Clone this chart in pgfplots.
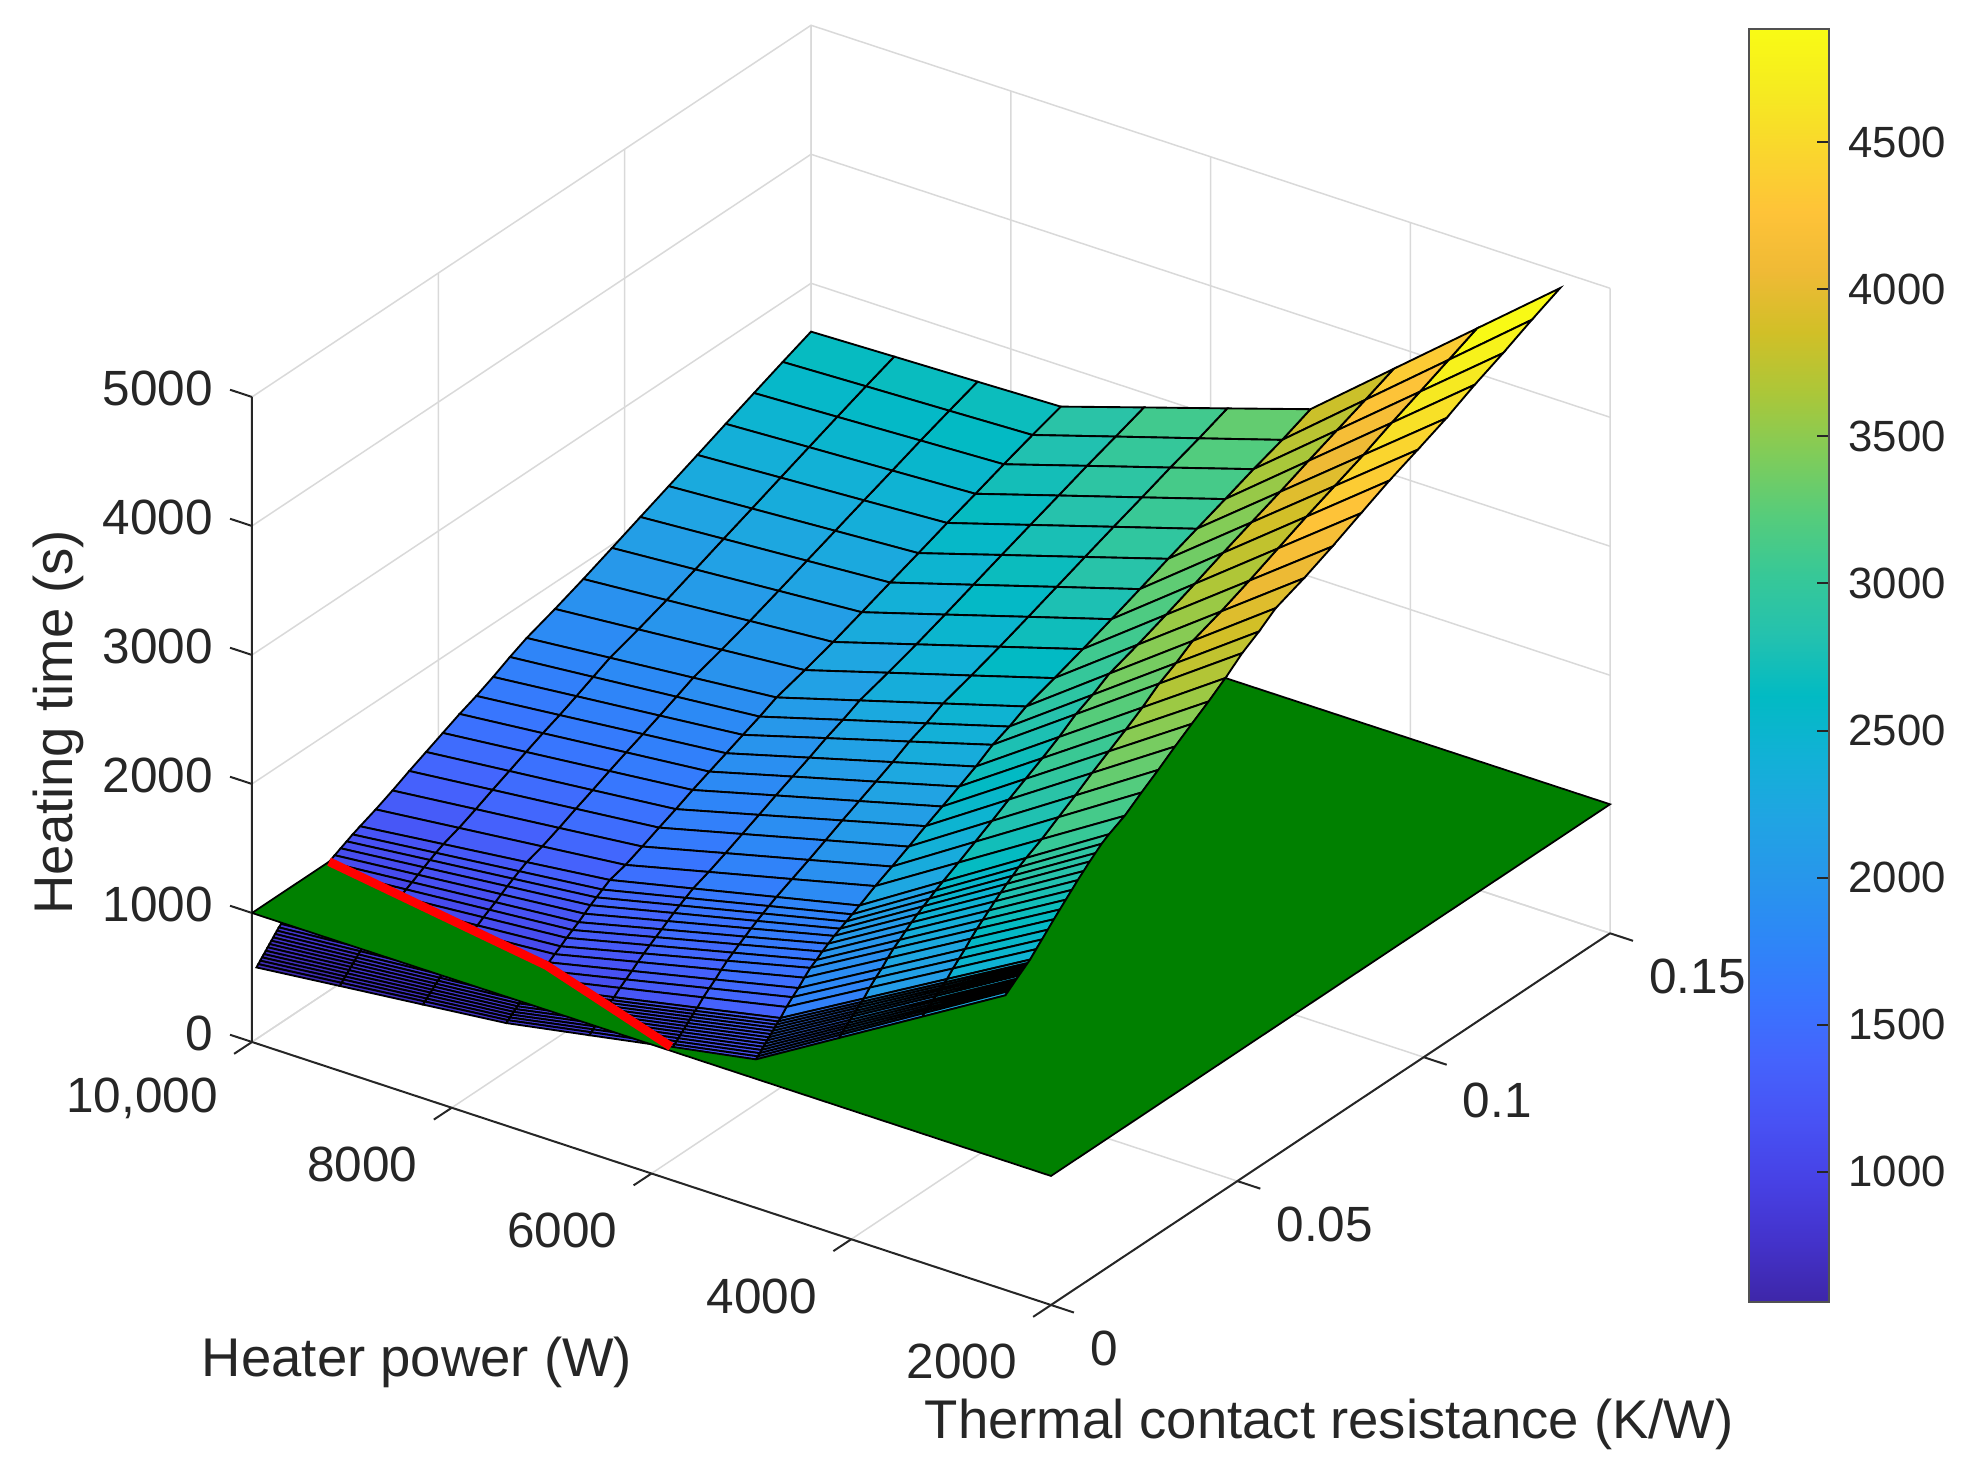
\documentclass[border=0pt]{standalone}
\usepackage{pgfplots}
\usepackage{pgfplotstable}
\usepackage{fontspec}
\setmainfont{Liberation Sans}
\pgfplotsset{compat=1.18}
\definecolor{txt}{HTML}{262626}
\definecolor{gridc}{HTML}{D9D9D9}
\definecolor{plane}{RGB}{0,128,0}
\pgfplotsset{colormap={parula}{rgb=(.2422,.1504,.6603) rgb=(.2647,.1978,.7952) rgb=(.2783,.2559,.8991) rgb=(.2810,.3228,.9579) rgb=(.2699,.3892,.9906) rgb=(.2206,.4603,.9973) rgb=(.1786,.5289,.9682) rgb=(.1540,.5902,.9218) rgb=(.1248,.6459,.8883) rgb=(.0689,.6948,.8394) rgb=(.0067,.7312,.7660) rgb=(.1408,.7584,.6842) rgb=(.2161,.7843,.5923) rgb=(.3406,.8008,.4789) rgb=(.5044,.7993,.3480) rgb=(.6720,.7793,.2227) rgb=(.8203,.7498,.1535) rgb=(.9393,.7288,.2100) rgb=(.9970,.7659,.2199) rgb=(.9786,.8413,.1770) rgb=(.9628,.9207,.1265) rgb=(.9769,.9839,.0805)}}
\pgfplotstableread{
x y z
2500 .15 4874
3333 .15 4349
4167 .15 3823
5000 .15 3298
5833 .15 3092
6667 .15 2887
7500 .15 2681
8333 .15 2662
9167 .15 2644
10000 .15 2625
2500 .1424 4774
3333 .1424 4251
4167 .1424 3729
5000 .1424 3206
5833 .1424 3006
6667 .1424 2807
7500 .1424 2607
8333 .1424 2583
9167 .1424 2560
10000 .1424 2536
2500 .1347 4664
3333 .1347 4152
4167 .1347 3639
5000 .1347 3127
5833 .1347 2927
6667 .1347 2728
7500 .1347 2528
8333 .1347 2500
9167 .1347 2471
10000 .1347 2443
2500 .1271 4565
3333 .1271 4057
4167 .1271 3549
5000 .1271 3041
5833 .1271 2842
6667 .1271 2644
7500 .1271 2445
8333 .1271 2413
9167 .1271 2382
10000 .1271 2350
2500 .1195 4452
3333 .1195 3954
4167 .1195 3455
5000 .1195 2957
5833 .1195 2760
6667 .1195 2562
7500 .1195 2365
8333 .1195 2328
9167 .1195 2292
10000 .1195 2255
2500 .1118 4355
3333 .1118 3861
4167 .1118 3366
5000 .1118 2872
5833 .1118 2674
6667 .1118 2477
7500 .1118 2279
8333 .1118 2240
9167 .1118 2200
10000 .1118 2161
2500 .1042 4262
3333 .1042 3769
4167 .1042 3276
5000 .1042 2783
5833 .1042 2588
6667 .1042 2392
7500 .1042 2197
8333 .1042 2154
9167 .1042 2111
10000 .1042 2068
2500 .0966 4155
3333 .0966 3669
4167 .0966 3182
5000 .0966 2696
5833 .0966 2502
6667 .0966 2307
7500 .0966 2113
8333 .0966 2067
9167 .0966 2020
10000 .0966 1974
2500 .0889 4045
3333 .0889 3567
4167 .0889 3090
5000 .0889 2612
5833 .0889 2418
6667 .0889 2224
7500 .0889 2030
8333 .0889 1981
9167 .0889 1930
10000 .0889 1881
2500 .0813 3945
3333 .0813 3474
4167 .0813 3004
5000 .0813 2533
5833 .0813 2341
6667 .0813 2150
7500 .0813 1958
8333 .0813 1904
9167 .0813 1849
10000 .0813 1795
2500 .0737 3859
3333 .0737 3392
4167 .0737 2926
5000 .0737 2459
5833 .0737 2270
6667 .0737 2081
7500 .0737 1892
8333 .0737 1833
9167 .0737 1775
10000 .0737 1716
2500 .0692 3764
3333 .0692 3306
4167 .0692 2848
5000 .0692 2390
5833 .0692 2203
6667 .0692 2017
7500 .0692 1830
8333 .0692 1772
9167 .0692 1713
10000 .0692 1655
2500 .0647 3683
3333 .0647 3234
4167 .0647 2784
5000 .0647 2335
5833 .0647 2148
6667 .0647 1962
7500 .0647 1775
8333 .0647 1712
9167 .0647 1650
10000 .0647 1587
2500 .0602 3576
3333 .0602 3135
4167 .0602 2694
5000 .0602 2253
5833 .0602 2075
6667 .0602 1897
7500 .0602 1719
8333 .0602 1655
9167 .0602 1590
10000 .0602 1526
2500 .0557 3481
3333 .0557 3049
4167 .0557 2616
5000 .0557 2184
5833 .0557 2010
6667 .0557 1837
7500 .0557 1663
8333 .0557 1600
9167 .0557 1536
10000 .0557 1473
2500 .0512 3394
3333 .0512 2968
4167 .0512 2542
5000 .0512 2116
5833 .0512 1946
6667 .0512 1777
7500 .0512 1607
8333 .0512 1542
9167 .0512 1477
10000 .0512 1412
2500 .0467 3305
3333 .0467 2887
4167 .0467 2468
5000 .0467 2050
5833 .0467 1882
6667 .0467 1713
7500 .0467 1545
8333 .0467 1480
9167 .0467 1416
10000 .0467 1351
2500 .0422 3210
3333 .0422 2799
4167 .0422 2389
5000 .0422 1978
5833 .0422 1815
6667 .0422 1651
7500 .0422 1488
8333 .0422 1422
9167 .0422 1356
10000 .0422 1290
2500 .0377 3121
3333 .0377 2717
4167 .0377 2314
5000 .0377 1910
5833 .0377 1749
6667 .0377 1589
7500 .0377 1428
8333 .0377 1360
9167 .0377 1293
10000 .0377 1225
2500 .0332 3027
3333 .0332 2633
4167 .0332 2239
5000 .0332 1845
5833 .0332 1687
6667 .0332 1530
7500 .0332 1372
8333 .0332 1303
9167 .0332 1234
10000 .0332 1165
2500 .029 2965
3333 .029 2568
4167 .029 2172
5000 .029 1775
5833 .029 1629
6667 .029 1482
7500 .029 1336
8333 .029 1262
9167 .029 1189
10000 .029 1115
2500 .027 2929
3333 .027 2534
4167 .027 2140
5000 .027 1745
5833 .027 1597
6667 .027 1448
7500 .027 1300
8333 .027 1230
9167 .027 1160
10000 .027 1090
2500 .0254 2888
3333 .0254 2499
4167 .0254 2109
5000 .0254 1720
5833 .0254 1570
6667 .0254 1420
7500 .0254 1270
8333 .0254 1202
9167 .0254 1135
10000 .0254 1067
2500 .0238 2853
3333 .0238 2467
4167 .0238 2081
5000 .0238 1695
5833 .0238 1543
6667 .0238 1392
7500 .0238 1240
8333 .0238 1175
9167 .0238 1109
10000 .0238 1044
2500 .0222 2810
3333 .0222 2430
4167 .0222 2050
5000 .0222 1670
5833 .0222 1515
6667 .0222 1360
7500 .0222 1205
8333 .0222 1144
9167 .0222 1082
10000 .0222 1021
2500 .0206 2770
3333 .0206 2393
4167 .0206 2017
5000 .0206 1640
5833 .0206 1483
6667 .0206 1327
7500 .0206 1170
8333 .0206 1113
9167 .0206 1055
10000 .0206 998
2500 .019 2725
3333 .019 2353
4167 .019 1982
5000 .019 1610
5833 .019 1453
6667 .019 1297
7500 .019 1140
8333 .019 1085
9167 .019 1030
10000 .019 975
2500 .0174 2680
3333 .0174 2312
4167 .0174 1943
5000 .0174 1575
5833 .0174 1420
6667 .0174 1265
7500 .0174 1110
8333 .0174 1057
9167 .0174 1003
10000 .0174 950
2500 .0158 2635
3333 .0158 2272
4167 .0158 1908
5000 .0158 1545
5833 .0158 1388
6667 .0158 1232
7500 .0158 1075
8333 .0158 1025
9167 .0158 975
10000 .0158 925
2500 .0142 2590
3333 .0142 2227
4167 .0142 1863
5000 .0142 1500
5833 .0142 1348
6667 .0142 1197
7500 .0142 1045
8333 .0142 996
9167 .0142 947
10000 .0142 898
2500 .0126 2540
3333 .0126 2177
4167 .0126 1813
5000 .0126 1450
5833 .0126 1304
6667 .0126 1158
7500 .0126 1012
8333 .0126 965
9167 .0126 917
10000 .0126 870
2500 .011 2495
3333 .011 2133
4167 .011 1772
5000 .011 1410
5833 .011 1267
6667 .011 1123
7500 .011 980
8333 .011 933
9167 .011 887
10000 .011 840
2500 .0094 2450
3333 .0094 2088
4167 .0094 1727
5000 .0094 1365
5833 .0094 1227
6667 .0094 1088
7500 .0094 950
8333 .0094 902
9167 .0094 853
10000 .0094 805
2500 .0078 2400
3333 .0078 2037
4167 .0078 1673
5000 .0078 1310
5833 .0078 1178
6667 .0078 1047
7500 .0078 915
8333 .0078 865
9167 .0078 815
10000 .0078 765
2500 .0072 2385
3333 .0072 2022
4167 .0072 1658
5000 .0072 1295
5833 .0072 1165
6667 .0072 1035
7500 .0072 905
8333 .0072 853
9167 .0072 802
10000 .0072 750
2500 .0067 2375
3333 .0067 2010
4167 .0067 1645
5000 .0067 1280
5833 .0067 1151
6667 .0067 1022
7500 .0067 893
8333 .0067 840
9167 .0067 787
10000 .0067 734
2500 .0062 2365
3333 .0062 1998
4167 .0062 1632
5000 .0062 1265
5833 .0062 1137
6667 .0062 1009
7500 .0062 881
8333 .0062 827
9167 .0062 772
10000 .0062 718
2500 .0057 2355
3333 .0057 1987
4167 .0057 1618
5000 .0057 1250
5833 .0057 1123
6667 .0057 996
7500 .0057 869
8333 .0057 813
9167 .0057 757
10000 .0057 701
2500 .0052 2345
3333 .0052 1975
4167 .0052 1605
5000 .0052 1235
5833 .0052 1109
6667 .0052 983
7500 .0052 857
8333 .0052 800
9167 .0052 742
10000 .0052 685
2500 .0047 2335
3333 .0047 1963
4167 .0047 1592
5000 .0047 1220
5833 .0047 1095
6667 .0047 970
7500 .0047 845
8333 .0047 786
9167 .0047 728
10000 .0047 669
2500 .0042 2320
3333 .0042 1948
4167 .0042 1577
5000 .0042 1205
5833 .0042 1081
6667 .0042 957
7500 .0042 833
8333 .0042 773
9167 .0042 713
10000 .0042 653
2500 .0037 2310
3333 .0037 1937
4167 .0037 1563
5000 .0037 1190
5833 .0037 1067
6667 .0037 944
7500 .0037 821
8333 .0037 759
9167 .0037 698
10000 .0037 636
2500 .0032 2300
3333 .0032 1925
4167 .0032 1550
5000 .0032 1175
5833 .0032 1053
6667 .0032 931
7500 .0032 809
8333 .0032 746
9167 .0032 683
10000 .0032 620
2500 .0027 2290
3333 .0027 1913
4167 .0027 1537
5000 .0027 1160
5833 .0027 1039
6667 .0027 918
7500 .0027 797
8333 .0027 733
9167 .0027 668
10000 .0027 604
2500 .0022 2280
3333 .0022 1902
4167 .0022 1523
5000 .0022 1145
5833 .0022 1025
6667 .0022 905
7500 .0022 785
8333 .0022 719
9167 .0022 654
10000 .0022 588
2500 .0017 2270
3333 .0017 1890
4167 .0017 1510
5000 .0017 1130
5833 .0017 1011
6667 .0017 892
7500 .0017 773
8333 .0017 706
9167 .0017 638
10000 .0017 571
2500 .0012 2250
3333 .0012 1872
4167 .0012 1494
5000 .0012 1116
5833 .0012 998
6667 .0012 879
7500 .0012 761
8333 .0012 692
9167 .0012 624
10000 .0012 555
}\surfdata
\begin{document}
\begin{tikzpicture}
\path[use as bounding box] (0pt,0pt) rectangle (793.2pt,587.6pt);
\begin{axis}[
  at={(100.8pt,65.6pt)},anchor=south west,
  x={(-0.039948pt,0.01316pt)},y={(1490.8pt,991.2pt)},z={(0pt,0.0516pt)},
  xmin=2000,xmax=10000,ymin=0,ymax=0.15,zmin=0,zmax=5000,
  clip=false,scaled ticks=false,
  colormap name=parula,point meta min=558,point meta max=4884,
  xtick={2000,4000,6000,8000,10000},xticklabels={2000,4000,6000,8000,{10,000}},
  ytick={0,0.05,0.1,0.15},yticklabels={0,0.05,0.1,0.15},
  ztick={0,1000,2000,3000,4000,5000},zticklabels={0,1000,2000,3000,4000,5000},
  axis line style={draw=none},
  tick align=outside,major tick length=8.5pt,
  tick style={draw=none},
  every tick label/.append style={font=\fontsize{19.8}{22}\selectfont,text=txt},
  xticklabel style={anchor=east,xshift=-3.1pt,yshift=-18pt},
  yticklabel style={anchor=west,xshift=4.1pt,yshift=-14.7pt},
  zticklabel style={anchor=east,xshift=-5.1pt,yshift=8pt},
  xlabel={Heater power (W)},ylabel={Thermal contact resistance (K/W)},zlabel={Heating time (s)},
  every axis x label/.style={at={(axis cs:8348,0,-2060)},anchor=center,font=\fontsize{21.8}{24}\selectfont,text=txt},
  every axis y label/.style={at={(axis cs:2000,0.0746,-2357)},anchor=center,font=\fontsize{21.8}{24}\selectfont,text=txt},
  every axis z label/.style={at={(axis cs:11938,0,1985)},anchor=center,rotate=90,font=\fontsize{21.8}{24}\selectfont,text=txt},
]
% grid on the two back walls and the floor
\pgfplotsinvokeforeach{0,1000,2000,3000,4000,5000}{
  \draw[gridc,line width=.6pt] (axis cs:10000,0,#1)--(axis cs:10000,.15,#1)--(axis cs:2000,.15,#1);}
\pgfplotsinvokeforeach{.05,.1,.15}{
  \draw[gridc,line width=.6pt] (axis cs:10000,#1,5000)--(axis cs:10000,#1,0)--(axis cs:2000,#1,0);}
\pgfplotsinvokeforeach{2000,4000,6000,8000,10000}{
  \draw[gridc,line width=.6pt] (axis cs:#1,.15,5000)--(axis cs:#1,.15,0)--(axis cs:#1,0,0);}
% axis lines and ticks
\draw[txt,line width=.8pt] (axis cs:10000,0,5000)--(axis cs:10000,0,0)--(axis cs:2000,0,0)--(axis cs:2000,.15,0);
\pgfplotsinvokeforeach{2000,4000,6000,8000,10000}{
  \draw[txt,line width=.8pt] (axis cs:#1,0,0)--(axis cs:#1,-.0048,0);}
\pgfplotsinvokeforeach{0,.05,.1,.15}{
  \draw[txt,line width=.8pt] (axis cs:2000,#1,0)--(axis cs:1770,#1,0);}
\pgfplotsinvokeforeach{0,1000,2000,3000,4000,5000}{
  \draw[txt,line width=.8pt] (axis cs:10000,0,#1)--(axis cs:10220,0,#1);}
\addplot3[surf,shader=flat corner,draw=black,line width=.75pt,mesh/rows=47,mesh/cols=10,z buffer=none] table[x=x,y=y,z=z]{\surfdata};
\addplot3[fill=plane,draw=black,line width=.7pt,no marks] coordinates {(10000,0,1000)(10000,.0207,1000)(7500,.012,1000)(5850,.0012,998)(5000,.0012,1116)(4167,.0012,1494)(3333,.0012,1872)(2500,.0012,2250)(2500,.0042,2320)(2500,.0078,2400)(2500,.011,2495)(2500,.0142,2590)(2500,.0174,2680)(2500,.0206,2770)(2500,.0238,2853)(2500,.027,2929)(2500,.029,2965)(2500,.0332,3027)(2500,.0377,3121)(2500,.0422,3210)(2500,.0467,3305)(2500,.0512,3394)(2500,.0557,3481)(2500,.0602,3576)(2000,.15,1000)(2000,0,1000)(10000,0,1000)};
\addplot3[red,line width=3.5pt,no marks] coordinates {(10000,.0207,1000)(7500,.012,1000)(5850,.0012,998)};
\end{axis}
\begin{axis}[
  at={(699.6pt,66.8pt)},anchor=south west,width=32pt,height=509.2pt,scale only axis,
  xmin=0,xmax=1,ymin=558,ymax=4884,xtick=\empty,
  ytick={1000,1500,2000,2500,3000,3500,4000,4500},
  yticklabels={1000,1500,2000,2500,3000,3500,4000,4500},
  ytick pos=right,yticklabel pos=right,tick align=inside,major tick length=5pt,
  colormap name=parula,point meta min=558,point meta max=4884,
  axis line style={txt!80,line width=.8pt},tick style={txt,line width=.8pt},axis on top,
  every tick label/.append style={font=\fontsize{17.5}{20}\selectfont,text=txt},
  yticklabel style={xshift=4.3pt},
]
\addplot[surf,shader=interp,mesh/cols=2,point meta=y] coordinates {(0,558)(1,558)(0,4884)(1,4884)};
\end{axis}
\end{tikzpicture}
\end{document}
